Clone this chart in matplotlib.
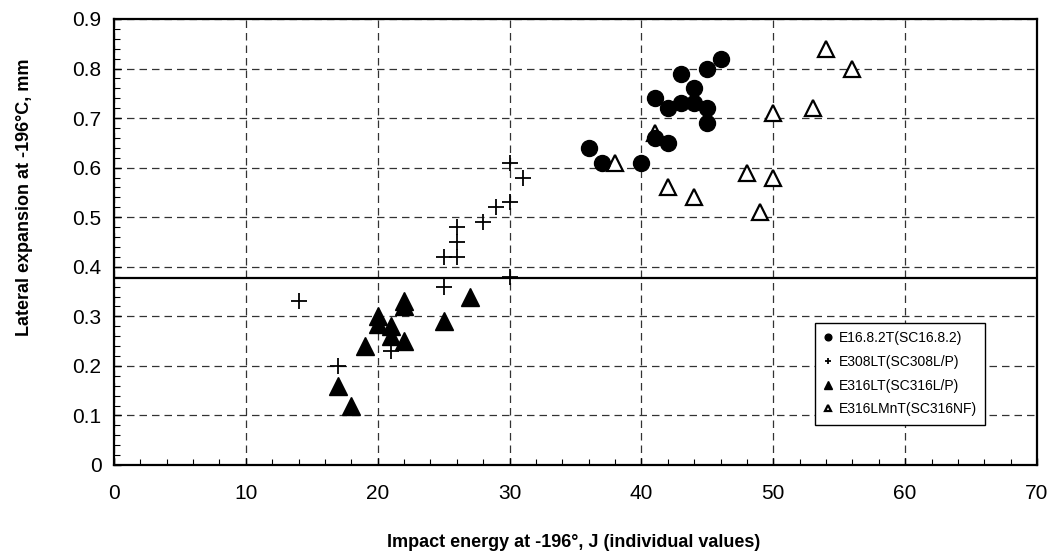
import matplotlib
matplotlib.use("Agg")
import matplotlib.pyplot as plt
import numpy as np

plt.rcParams['font.family'] = ['Liberation Sans', 'DejaVu Sans']

# E16.8.2T (SC16.8.2) - filled circles
e1682_x = [36, 37, 40, 41, 41, 42, 42, 43, 43, 44, 44, 45, 45, 45, 46]
e1682_y = [0.64, 0.61, 0.61, 0.74, 0.66, 0.72, 0.65, 0.79, 0.73, 0.76, 0.73, 0.80, 0.72, 0.69, 0.82]

# E308LT (SC308L/P) - plus
e308_x = [14, 17, 21, 25, 25, 26, 26, 26, 28, 29, 30, 30, 30, 31]
e308_y = [0.33, 0.20, 0.23, 0.42, 0.36, 0.48, 0.45, 0.42, 0.49, 0.52, 0.61, 0.53, 0.38, 0.58]

# E316LT (SC316L/P) - filled triangles
e316_x = [17, 18, 19, 20, 20, 21, 21, 22, 22, 22, 25, 27]
e316_y = [0.16, 0.12, 0.24, 0.30, 0.285, 0.28, 0.26, 0.33, 0.32, 0.25, 0.29, 0.34]

# E316LMnT (SC316NF) - open triangles
e316mn_x = [38, 41, 42, 44, 48, 49, 50, 50, 53, 54, 56]
e316mn_y = [0.61, 0.67, 0.56, 0.54, 0.59, 0.51, 0.58, 0.71, 0.72, 0.84, 0.80]

limite = 0.378

fig = plt.figure(figsize=(10.55, 5.6), dpi=100)
ax = fig.add_axes([114/1055, 95/560, 923/1055, 446/560])

ax.plot(e316mn_x, e316mn_y, '^', ms=11.5, mfc='white', mec='black', mew=1.6,
        label='E316LMnT(SC316NF)', zorder=3)
ax.plot(e1682_x, e1682_y, 'o', ms=11.5, color='black', label='E16.8.2T(SC16.8.2)', zorder=4)
ax.plot(e308_x, e308_y, '+', ms=11, color='black', mew=1.3, label='E308LT(SC308L/P)', zorder=4)
ax.plot(e316_x, e316_y, '^', ms=12.5, color='black', label='E316LT(SC316L/P)', zorder=4)

ax.axhline(limite, color='black', lw=1.6, zorder=2)

ax.set_xlim(0, 70)
ax.set_ylim(0, 0.9)
ax.set_xticks(np.arange(0, 71, 10))
ax.set_yticks(np.arange(0, 0.91, 0.1))
ax.set_yticklabels(['0', '0.1', '0.2', '0.3', '0.4', '0.5', '0.6', '0.7', '0.8', '0.9'])
ax.set_xticks(np.arange(0, 71, 2), minor=True)
ax.set_yticks(np.arange(0, 0.91, 0.02), minor=True)
ax.tick_params(which='both', direction='in', top=False, right=False)
ax.tick_params(which='major', length=5, width=1, labelsize=15)
ax.tick_params(which='minor', length=4, width=0.8)
ax.tick_params(axis='x', which='major', pad=14)
ax.tick_params(axis='y', which='major', pad=9)
ax.grid(True, which='major', color='#333333', linestyle=(0, (6, 4)), lw=0.9)
for s in ax.spines.values():
    s.set_linewidth(1.6)

ax.set_xlabel('Impact energy at -196°, J (individual values)', fontsize=13, fontweight='bold')
ax.set_ylabel('Lateral expansion at -196°C, mm', fontsize=13, fontweight='bold')
ax.xaxis.set_label_coords(0.498, -0.155)
ax.yaxis.set_label_coords(-0.088, 0.6)

h, l = ax.get_legend_handles_labels()
ordem = [1, 2, 3, 0]
leg = ax.legend([h[i] for i in ordem], [l[i] for i in ordem], loc='lower left',
                bbox_to_anchor=(0.752, 0.075), fontsize=10, markerscale=0.42,
                handlelength=0.6, handletextpad=0.5, labelspacing=0.7,
                borderpad=0.6, fancybox=False, framealpha=1, edgecolor='black')
leg.get_frame().set_linewidth(1.0)

plt.savefig('out.png', dpi=100)
